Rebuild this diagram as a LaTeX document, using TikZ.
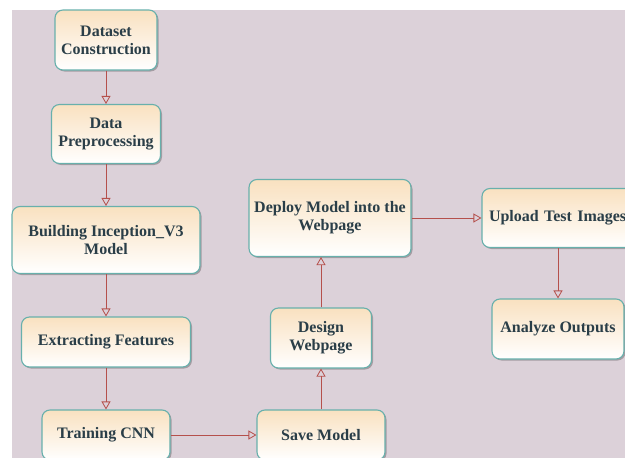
\documentclass[tikz,border=0pt]{standalone}
\usepackage{fontspec}
\setmainfont{Liberation Serif}
\usetikzlibrary{arrows.meta,shadows}
\definecolor{bgcol}{HTML}{DCD1D9}
\definecolor{edgecol}{HTML}{68B0AC}
\definecolor{topcol}{HTML}{F9E1C0}
\definecolor{txtcol}{HTML}{2A3E48}
\definecolor{arrcol}{HTML}{B5504C}
\tikzset{
  box/.style={draw=edgecol, line width=1.1pt, rounded corners=8pt, top color=topcol, bottom color=white,
    drop shadow={shadow xshift=1.5pt, shadow yshift=-1.5pt, fill=black, opacity=0.25},
    align=center, text=txtcol, font=\fontsize{16}{18}\selectfont\bfseries, inner sep=2pt},
  flow/.style={draw=arrcol, line width=0.8pt, -{Triangle[open, length=8pt, width=9pt]}}
}
\begin{document}
\begin{tikzpicture}[x=1pt,y=-1pt]
    \useasboundingbox (0,0) rectangle (625,458);
    \clip (0,0) rectangle (625,458);
    \fill[bgcol] (12,10) rectangle (625,458);

    \node[box, minimum width=102, minimum height=60] (dataset) at (106,40) {Dataset\\Construction};
    \node[box, minimum width=109, minimum height=59] (prep) at (106,134) {Data\\Preprocessing};
    \node[box, minimum width=188, minimum height=67] (incep) at (106,240) {Building Inception\_V3\\Model};
    \node[box, minimum width=169, minimum height=50] (extract) at (106,342) {Extracting Features};
    \node[box, minimum width=128, minimum height=50] (train) at (106,435) {Training CNN};
    \node[box, minimum width=128, minimum height=50] (save) at (321,435) {Save Model};
    \node[box, minimum width=101, minimum height=60] (design) at (321,338) {Design\\Webpage};
    \node[box, minimum width=162, minimum height=77] (deploy) at (330,218) {Deploy Model into the\\Webpage};
    \node[box, minimum width=152, minimum height=59, inner xsep=7pt, text width=138, align=left] (upload) at (558,218) {Upload Test Images};
    \node[box, minimum width=132, minimum height=60] (analyze) at (558,329) {Analyze Outputs};

    \foreach \a/\b in {dataset/prep, prep/incep, incep/extract, extract/train, upload/analyze, save/design}
        \draw[flow] (\a) -- (\b);
    \draw[flow] (train) -- (save);
    \draw[flow] (deploy) -- (upload);
    \draw[flow] (design.north) -- (design.north |- deploy.south);
\end{tikzpicture}
\end{document}
